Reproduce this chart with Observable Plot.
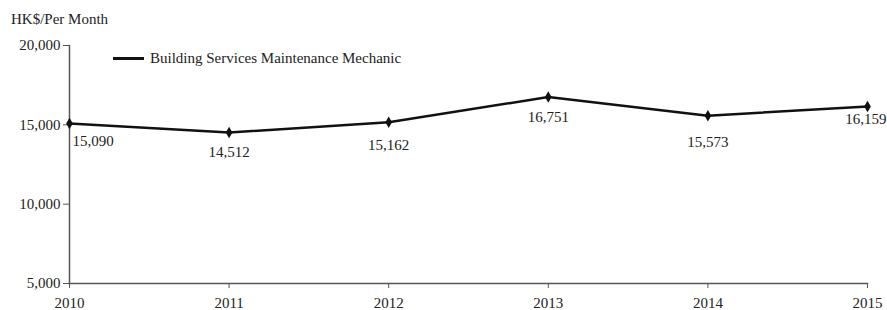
<!DOCTYPE html>
<html>
<head>
<meta charset="utf-8">
<script src="https://cdn.jsdelivr.net/npm/d3@7"></script>
<script src="https://cdn.jsdelivr.net/npm/@observablehq/plot@0.6"></script>
<style>
  body { margin: 0; background: #fff; }
  #wrap { position: relative; width: 887px; height: 310px; font-family: "Liberation Serif", "Times New Roman", serif; color: #222; }
  #title { position: absolute; left: 11px; top: 9px; font-size: 15px; line-height: 20px; }
  #legend { position: absolute; left: 113px; top: 48px; font-size: 15px; line-height: 20px; display: flex; align-items: center; }
  #legend .sw { width: 31px; height: 3px; background: #111; margin-right: 6px; }
</style>
</head>
<body>
<div id="wrap">
  <div id="chart"></div>
  <div id="title"></div>
  <div id="legend"><span class="sw"></span><span id="legtext"></span></div>
</div>
<script>
const years = [2010, 2011, 2012, 2013, 2014, 2015];
const wages = [15090, 14512, 15162, 16751, 15573, 16159];
const yTicks = [5000, 10000, 15000, 20000];
const seriesName = "Building Services Maintenance Mechanic";
const unitTitle = "HK$/Per Month";

const data = years.map((year, i) => ({year, wage: wages[i]}));
const fmt = d3.format(",");

document.getElementById("title").textContent = unitTitle;
document.getElementById("legtext").textContent = seriesName;

const lbl = (rows, opts) => Plot.text(rows, {x: "year", y: "wage", text: d => fmt(d.wage), fill: "#222", fontSize: 15, ...opts});

const chart = Plot.plot({
  width: 887,
  height: 310,
  marginLeft: 69,
  marginRight: 20,
  marginTop: 45,
  marginBottom: 27,
  style: {fontFamily: '"Liberation Serif", "Times New Roman", serif', fontSize: "15px", color: "#222", background: "#fff", overflow: "visible"},
  x: {domain: [2010, 2015], ticks: years, tickFormat: d => String(d)},
  y: {domain: [5000, 20000], ticks: yTicks, tickFormat: fmt},
  marks: [
    Plot.frame({anchor: "left", stroke: "#555", strokeWidth: 1.5}),
    Plot.frame({anchor: "bottom", stroke: "#555", strokeWidth: 1.5}),
    Plot.axisY({ticks: yTicks, tickFormat: fmt, tickSize: 6, tickPadding: 3, stroke: "#555", label: null, fontSize: 15}),
    Plot.axisX({ticks: years, tickFormat: d => String(d), tickSize: 5, tickPadding: 9, stroke: "#555", label: null, fontSize: 15}),
    Plot.line(data, {x: "year", y: "wage", stroke: "#111", strokeWidth: 2.5}),
    Plot.dot(data, {x: "year", y: "wage", symbol: "diamond", r: 3.5, fill: "#111", stroke: null}),
    lbl([data[0]], {textAnchor: "start", dx: 3, dy: 18}),
    lbl([data[1], data[3]], {textAnchor: "middle", dy: 20}),
    lbl([data[2]], {textAnchor: "middle", dy: 23}),
    lbl([data[4]], {textAnchor: "middle", dy: 26}),
    lbl([data[5]], {textAnchor: "end", dx: 19, dy: 13})
  ]
});
document.getElementById("chart").appendChild(chart);
</script>
</body>
</html>
